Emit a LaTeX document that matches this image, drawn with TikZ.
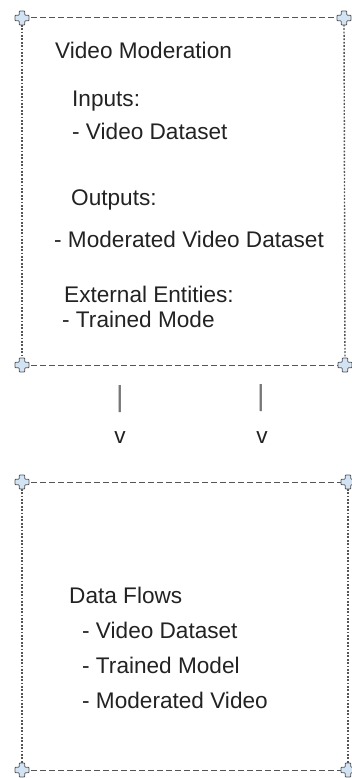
\documentclass[tikz,border=0pt]{standalone}
\usepackage{fontspec}
\setmainfont{Liberation Sans}
\usetikzlibrary{positioning}

\definecolor{inkgrey}{HTML}{222222}
\definecolor{edgegrey}{HTML}{555555}
\definecolor{bargrey}{HTML}{777777}
\definecolor{crossfill}{HTML}{D2E4F4}

\tikzset{
	cornermark/.pic={
		\filldraw[fill=crossfill, draw=edgegrey, line width=0.8pt, rounded corners=0.8pt]
		(-2.8,-7) -- (2.8,-7) -- (2.8,-2.8) -- (7,-2.8) -- (7,2.8) -- (2.8,2.8)
		-- (2.8,7) -- (-2.8,7) -- (-2.8,2.8) -- (-7,2.8) -- (-7,-2.8) -- (-2.8,-2.8) -- cycle;
	}
}

\begin{document}
\begin{tikzpicture}[x=1pt, y=-1pt,
	nodes={text=inkgrey, font=\fontsize{22.6}{26}\selectfont, inner sep=0pt},
	txt/.style={anchor=base west},
	ascii/.style={anchor=center},
	dashside/.style={draw=edgegrey, line width=1pt, dash pattern=on 5.5pt off 3.5pt},
	dotside/.style={draw=edgegrey, line width=1.4pt, dash pattern=on 1.8pt off 1.6pt}]
	\useasboundingbox (0,0) rectangle (351,778);
	
	% corners of the two boxes
	\coordinate (mod nw) at (22,18);
	\coordinate (mod ne) at (344,18);
	\coordinate (mod sw) at (22,365);
	\coordinate (mod se) at (345,365);
	\coordinate (flow nw) at (22,482);
	\coordinate (flow ne) at (348,482);
	\coordinate (flow sw) at (22,770);
	\coordinate (flow se) at (348,770);
	
	\draw[dashside] (mod nw) -- (mod ne);
	\draw[dashside] (mod sw) -- (mod se);
	\draw[dotside] (mod nw) -- (mod sw);
	\draw[dotside] (mod ne) -- (mod se);
	\draw[dashside] (flow nw) -- (flow ne);
	\draw[dashside] (flow sw) -- (flow se);
	\draw[dotside] (flow nw) -- (flow sw);
	\draw[dotside] (flow ne) -- (flow se);
	
	\foreach \c in {mod nw, mod ne, mod sw, mod se, flow nw, flow ne, flow sw, flow se}
		\pic at (\c) {cornermark};
	
	% upper box
	\node[txt] (title) at (55,59) {Video Moderation};
	\node[txt] (inputs) at (72,107) {Inputs:};
	\node[txt] (in1) at (72,140) {- Video Dataset};
	\node[txt] (outputs) at (71,205) {Outputs:};
	\node[txt] (out1) at (54,247) {- Moderated Video Dataset};
	\node[txt] (ext) at (64,302) {External Entities:};
	\node[txt] (ext1) at (62,327) {- Trained Mode};
	
	% ascii arrows
	\node[ascii, text=bargrey, font=\fontsize{29}{30}\selectfont] (barl) at (120,399) {|};
	\node[ascii, text=bargrey, font=\fontsize{29}{30}\selectfont] (barr) at (261,398) {|};
	\node[ascii] (vl) at (120,438) {v};
	\node[ascii] (vr) at (262,438) {v};
	
	% lower box
	\node[txt] (flows) at (69,603) {Data Flows};
	\node[txt] (fl1) at (82,638) {- Video Dataset};
	\node[txt] (fl2) at (82,673) {- Trained Model};
	\node[txt] (fl3) at (82,708) {- Moderated Video};
\end{tikzpicture}
\end{document}
